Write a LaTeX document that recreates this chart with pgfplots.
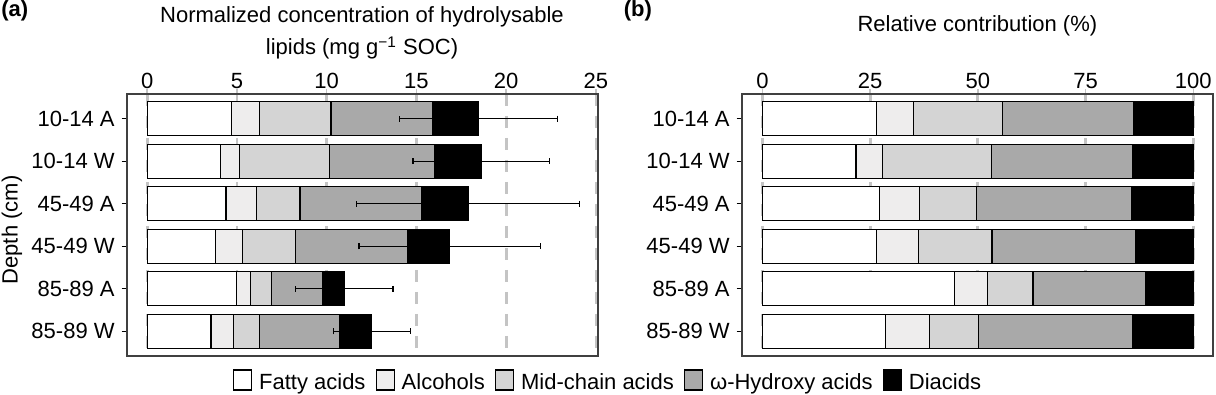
\documentclass[border=0pt]{standalone}
\usepackage{fontspec}
\setmainfont{Liberation Sans}
\usepackage{pgfplots}
\pgfplotsset{compat=1.18}

\definecolor{framec}{HTML}{404040}
\definecolor{gridc}{HTML}{C4C4C4}
\definecolor{alc}{HTML}{EEEDED}
\definecolor{midc}{HTML}{D4D4D4}
\definecolor{hyd}{HTML}{A9A9A9}

\pgfplotsset{
  every axis/.append style={font=\fontsize{11}{13}\selectfont},
  panel/.style={
    scale only axis, width=235.5pt, height=131pt,
    xbar stacked, bar width=0.8,
    y dir=reverse, ymin=-0.58, ymax=5.58,
    ytick={0,...,5},
    yticklabels={10-14 A,10-14 W,45-49 A,45-49 W,85-89 A,85-89 W},
    xtick pos=right, xticklabel pos=right, ytick pos=left,
    xticklabel style={yshift=-3.5pt},
    tick align=outside,
    major tick length=2.5pt,
    x tick style={gridc, line width=0.8pt},
    y tick style={black, line width=0.5pt},
    axis line style={framec, line width=1.1pt},
    xmajorgrids,
    major grid style={gridc, line width=1.4pt, dash pattern=on 6pt off 5pt},
    /pgf/number format/assume math mode=true,
  },
  seg/.style={draw=black, line width=0.6pt, fill=#1},
}

\begin{document}
\begin{tikzpicture}[font=\fontsize{11}{13}\selectfont]
\path[use as bounding box] (0,0) rectangle (608pt,197.5pt);

% (a) absolute concentrations
\begin{axis}[panel, at={(63.35pt,19.5pt)}, anchor=south west,
    xmin=-1.14, xmax=25.1, xtick={0,5,...,25},
    legend columns=5,
    legend style={draw=none, fill=none, at={(1.0219,-0.0992)}, anchor=center,
      inner sep=0pt, nodes={inner sep=1pt},
      /tikz/every odd column/.append style={column sep=2.5pt},
      /tikz/every even column/.append style={column sep=4pt}},
    legend image code/.code={\draw[#1,line width=0.6pt] (0pt,-3.5pt) rectangle (9pt,6.5pt);},
  ]
  \addplot[seg=white] coordinates {(4.72,0) (4.07,1) (4.39,2) (3.81,3) (4.96,4) (3.56,5)};
  \addlegendentry{Fatty acids}
  \addplot[seg=alc] coordinates {(1.54,0) (1.06,1) (1.72,2) (1.52,3) (0.80,4) (1.25,5)};
  \addlegendentry{Alcohols}
  \addplot[seg=midc] coordinates {(3.98,0) (5.02,1) (2.41,2) (2.95,3) (1.15,4) (1.47,5)};
  \addlegendentry{Mid-chain acids}
  \addplot[seg=hyd] coordinates {(5.65,0) (5.87,1) (6.76,2) (6.22,3) (2.89,4) (4.44,5)};
  \addlegendentry{ω-Hydroxy acids}
  \addplot[seg=black] coordinates {(2.55,0) (2.59,1) (2.59,2) (2.35,3) (1.18,4) (1.80,5)};
  \addlegendentry{Diacids}
\end{axis}

% error bars on the totals
\begin{axis}[at={(63.35pt,19.5pt)}, anchor=south west,
    scale only axis, width=235.5pt, height=131pt, hide axis,
    xmin=-1.14, xmax=25.1, y dir=reverse, ymin=-0.58, ymax=5.58]
  \addplot[draw=none, mark=none,
    error bars/.cd, x dir=both, x explicit,
    error bar style={draw=black, line width=0.6pt},
    error mark options={rotate=90, draw=black, line width=0.6pt, mark size=1.5pt}]
    coordinates {
      (18.44,0) +- (4.40,0)
      (18.61,1) +- (3.80,0)
      (17.87,2) +- (6.20,0)
      (16.85,3) +- (5.05,0)
      (10.98,4) +- (2.72,0)
      (12.52,5) +- (2.15,0)
    };
\end{axis}

% (b) relative contribution
\begin{axis}[panel, at={(370.85pt,19.5pt)}, anchor=south west,
    xmin=-4.8, xmax=104.5, xtick={0,25,50,75,100}]
  \addplot[seg=white] coordinates {(26.4,0) (21.7,1) (27.1,2) (26.4,3) (44.6,4) (28.5,5)};
  \addplot[seg=alc] coordinates {(8.6,0) (6.1,1) (9.3,2) (9.8,3) (7.7,4) (10.2,5)};
  \addplot[seg=midc] coordinates {(20.8,0) (25.4,1) (13.3,2) (17.1,3) (10.5,4) (11.5,5)};
  \addplot[seg=hyd] coordinates {(30.4,0) (32.8,1) (36.0,2) (33.3,3) (26.2,4) (35.6,5)};
  \addplot[seg=black] coordinates {(13.8,0) (14.0,1) (14.3,2) (13.4,3) (11.0,4) (14.2,5)};
\end{axis}

\node[anchor=base] at (181pt,186pt) {Normalized concentration of hydrolysable};
\node[anchor=base] at (181pt,170pt) {lipids (mg g\textsuperscript{\char"2212 1} SOC)};
\node[anchor=base] at (488.7pt,181.75pt) {Relative contribution (\%)};
\node[anchor=base west, inner sep=0pt, font=\fontsize{11}{13}\selectfont\bfseries] at (0.5pt,189pt) {(a)};
\node[anchor=base west, inner sep=0pt, font=\fontsize{11}{13}\selectfont\bfseries] at (311.7pt,189pt) {(b)};
\node[rotate=90] at (6pt,82.5pt) {Depth (cm)};
\end{tikzpicture}
\end{document}
